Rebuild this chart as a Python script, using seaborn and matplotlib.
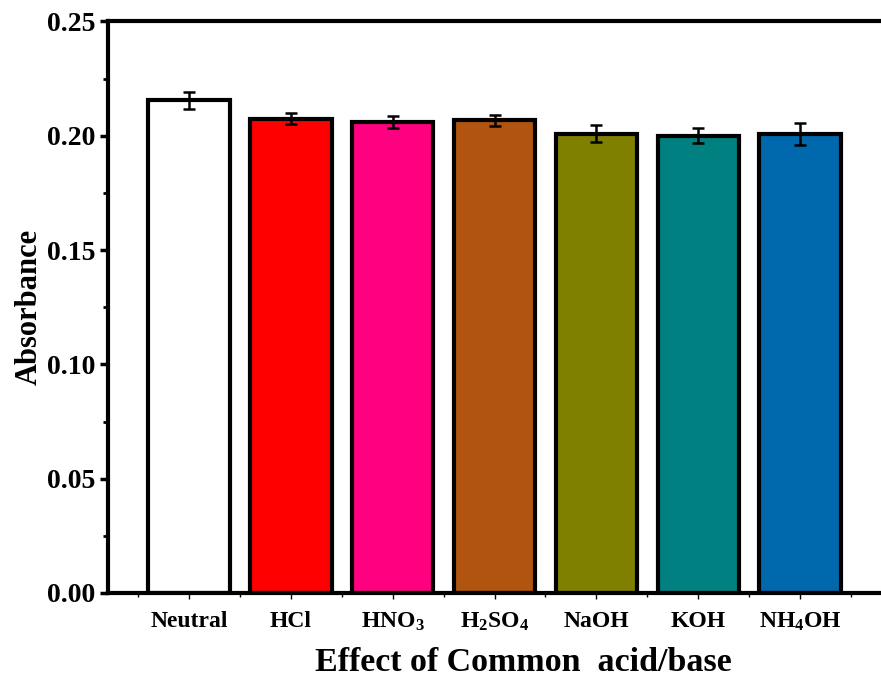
import matplotlib
matplotlib.use("Agg")
import matplotlib.pyplot as plt
from matplotlib.ticker import MultipleLocator, FixedLocator
import numpy as np
import pandas as pd
import seaborn as sns

# Mean absorbance per medium and its standard deviation
reagents = ["Neutral", "HCl", "HNO$_3$", "H$_2$SO$_4$", "NaOH", "KOH", "NH$_4$OH"]
absorbance = [0.2155, 0.2075, 0.2060, 0.2067, 0.2010, 0.2000, 0.2008]
std_dev = [0.0038, 0.0024, 0.0025, 0.0025, 0.0039, 0.0032, 0.0048]
bar_colors = ["#FFFFFF", "#FF0000", "#FF0080", "#B0540F", "#808000", "#008080", "#0068AC"]
y_ticks = [0.00, 0.05, 0.10, 0.15, 0.20, 0.25]

sns.set_theme(style="ticks")
plt.rcParams["font.family"] = ["Liberation Serif", "DejaVu Serif"]
plt.rcParams["font.weight"] = "bold"
plt.rcParams["mathtext.fontset"] = "custom"
plt.rcParams["mathtext.rm"] = "Liberation Serif:bold"
plt.rcParams["mathtext.bf"] = "Liberation Serif:bold"
plt.rcParams["mathtext.it"] = "Liberation Serif:bold"
plt.rcParams["mathtext.default"] = "regular"

df = pd.DataFrame({"reagent": reagents, "absorbance": absorbance})

fig = plt.figure(figsize=(8.81, 6.82), dpi=100)
# the plot frame runs past the right edge of the canvas
ax = fig.add_axes([0.1226, 0.1305, 0.944, 0.838])

sns.barplot(data=df, x="reagent", y="absorbance", hue="reagent",
            palette=bar_colors, edgecolor="black", linewidth=3,
            width=0.8, legend=False, ax=ax, errorbar=None, saturation=1)

ax.errorbar(np.arange(len(reagents)), absorbance, yerr=std_dev, fmt="none",
            ecolor="black", elinewidth=1.8, capsize=4, capthick=1.8, zorder=5)

ax.set_xlim(-0.795, 7.37)
ax.set_ylim(0, 0.25)
ax.set_yticks(y_ticks)
ax.yaxis.set_minor_locator(MultipleLocator(0.025))
ax.xaxis.set_minor_locator(FixedLocator(np.arange(-0.5, 7.0, 1.0)))
ax.set_yticklabels([f"{t:.2f}" for t in y_ticks])

ax.tick_params(axis="y", which="major", direction="out", length=6, width=2.5,
               labelsize=20, pad=3, color="black", labelcolor="black")
ax.tick_params(axis="y", which="minor", direction="out", length=3.5, width=2,
               color="black")
ax.tick_params(axis="x", which="major", direction="out", length=4, width=1,
               labelsize=17, pad=9, color="black", labelcolor="black")
ax.tick_params(axis="x", which="minor", direction="out", length=3, width=1,
               color="black")
for lbl in ax.get_xticklabels() + ax.get_yticklabels():
    lbl.set_fontweight("bold")

for side in ["left", "top", "bottom"]:
    ax.spines[side].set_linewidth(3)
    ax.spines[side].set_color("black")
ax.spines["right"].set_visible(False)

ax.set_xlabel("Effect of Common  acid/base", fontsize=24.5, fontweight="bold",
              color="black", labelpad=10)
ax.set_ylabel("Absorbance", fontsize=22, fontweight="bold", color="black",
              labelpad=2)

fig.savefig("out.png", dpi=100)
